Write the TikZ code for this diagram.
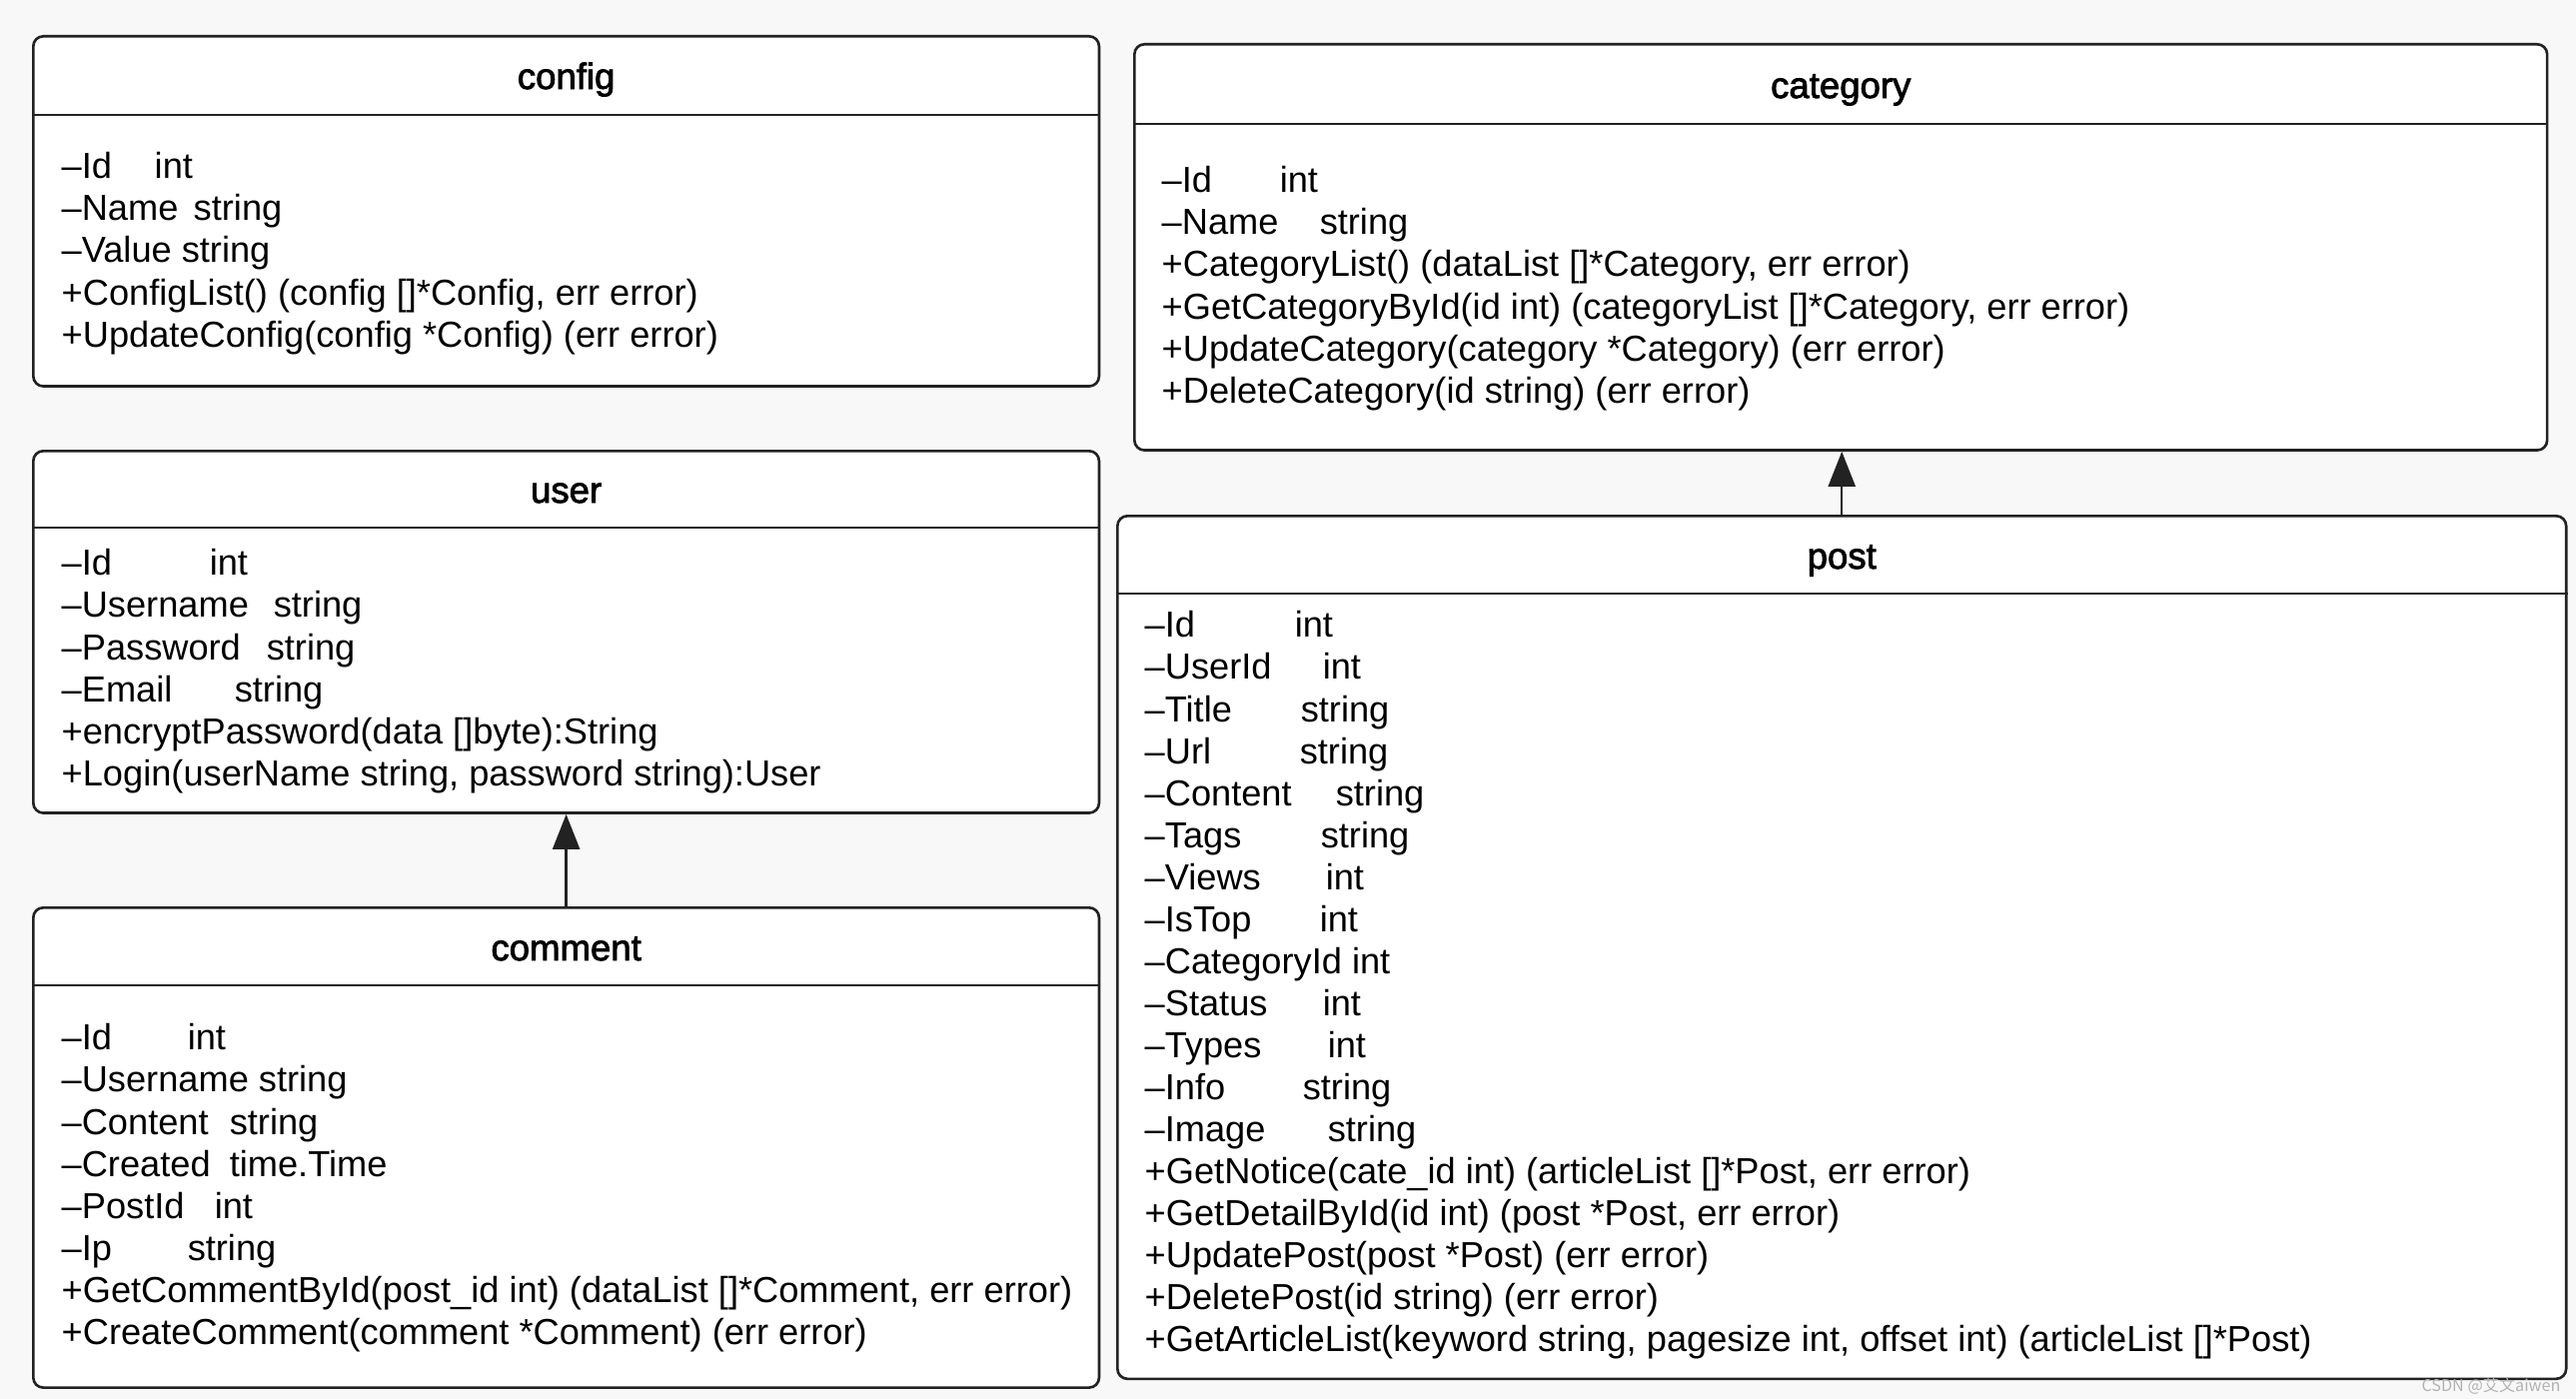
\documentclass[tikz,border=0pt]{standalone}
\usepackage{fontspec}
\setmainfont{Liberation Sans}
\newfontfamily\titlefont[FakeBold=2.2]{Liberation Sans}
\newfontfamily\cjkfont{Noto Sans CJK SC}
\usetikzlibrary{arrows.meta}

\definecolor{bgcol}{RGB}{248,248,248}
\definecolor{linecol}{RGB}{34,34,34}

% field with its type at a fixed column
\newcommand\fld[3]{\makebox[#1][l]{#2}#3}

\tikzset{
  classbox/.style={draw=linecol, line width=0.75pt, rounded corners=0.1cm, fill=white, inner sep=0pt, anchor=north west},
  headline/.style={draw=linecol, line width=0.75pt},
  classtitle/.style={anchor=base, inner sep=0pt, font=\titlefont\fontsize{10.4}{12}\selectfont},
  classbody/.style={anchor=north west, align=left, inner sep=0pt, font=\fontsize{10.3}{11.95}\selectfont},
  inherit/.style={draw=linecol, line width=0.7pt, -{Triangle[length=0.35cm,width=0.27cm]}},
}

\begin{document}
\begin{tikzpicture}[x=0.01cm, y=-0.01cm]
\fill[bgcol] (0,0) rectangle (2578,1400);
\useasboundingbox (0,0) rectangle (2578,1400);

% config
\node[classbox, minimum width=10.66cm, minimum height=3.5cm] (config) at (32,35) {};
\draw[headline] ([yshift=-0.8cm]config.north west) -- ([yshift=-0.8cm]config.north east);
\node[classtitle] (configtitle) at ([yshift=-0.54cm]config.north) {config};
\node[classbody] (configbody) at (61,152) {%
  \fld{0.93cm}{--Id}{int}\\
  \fld{1.32cm}{--Name}{string}\\
  --Value string\\
  +ConfigList() (config []*Config, err error)\\
  +UpdateConfig(config *Config) (err error)};

% category
\node[classbox, minimum width=14.13cm, minimum height=4.06cm] (category) at (1134,43) {};
\draw[headline] ([yshift=-0.81cm]category.north west) -- ([yshift=-0.81cm]category.north east);
\node[classtitle] (categorytitle) at ([yshift=-0.55cm]category.north) {category};
\node[classbody] (categorybody) at (1162,166) {%
  \fld{1.18cm}{--Id}{int}\\
  \fld{1.58cm}{--Name}{string}\\
  +CategoryList() (dataList []*Category, err error)\\
  +GetCategoryById(id int) (categoryList []*Category, err error)\\
  +UpdateCategory(category *Category) (err error)\\
  +DeleteCategory(id string) (err error)};

% user
\node[classbox, minimum width=10.66cm, minimum height=3.62cm] (user) at (32,450) {};
\draw[headline] ([yshift=-0.78cm]user.north west) -- ([yshift=-0.78cm]user.north east);
\node[classtitle] (usertitle) at ([yshift=-0.53cm]user.north) {user};
\node[classbody] (userbody) at (61,549) {%
  \fld{1.48cm}{--Id}{int}\\
  \fld{2.12cm}{--Username}{string}\\
  \fld{2.05cm}{--Password}{string}\\
  \fld{1.73cm}{--Email}{string}\\
  +encryptPassword(data []byte):String\\
  +Login(userName string, password string):User};

% comment
\node[classbox, minimum width=10.66cm, minimum height=4.8cm] (comment) at (32,907) {};
\draw[headline] ([yshift=-0.79cm]comment.north west) -- ([yshift=-0.79cm]comment.north east);
\node[classtitle] (commenttitle) at ([yshift=-0.54cm]comment.north) {comment};
\node[classbody] (commentbody) at (61,1024) {%
  \fld{1.26cm}{--Id}{int}\\
  --Username string\\
  \fld{1.68cm}{--Content}{string}\\
  \fld{1.68cm}{--Created}{time.Time}\\
  \fld{1.53cm}{--PostId}{int}\\
  \fld{1.26cm}{--Ip}{string}\\
  +GetCommentById(post\_id int) (dataList []*Comment, err error)\\
  +CreateComment(comment *Comment) (err error)};

% post
\node[classbox, minimum width=14.49cm, minimum height=8.63cm] (post) at (1117,515) {};
\draw[headline] ([yshift=-0.79cm]post.north west) -- ([yshift=-0.79cm]post.north east);
\node[classtitle] (posttitle) at ([yshift=-0.54cm]post.north) {post};
\node[classbody] (postbody) at (1145,611) {%
  \fld{1.50cm}{--Id}{int}\\
  \fld{1.78cm}{--UserId}{int}\\
  \fld{1.56cm}{--Title}{string}\\
  \fld{1.55cm}{--Url}{string}\\
  \fld{1.91cm}{--Content}{string}\\
  \fld{1.76cm}{--Tags}{string}\\
  \fld{1.81cm}{--Views}{int}\\
  \fld{1.75cm}{--IsTop}{int}\\
  --CategoryId int\\
  \fld{1.78cm}{--Status}{int}\\
  \fld{1.83cm}{--Types}{int}\\
  \fld{1.58cm}{--Info}{string}\\
  \fld{1.83cm}{--Image}{string}\\
  +GetNotice(cate\_id int) (articleList []*Post, err error)\\
  +GetDetailById(id int) (post *Post, err error)\\
  +UpdatePost(post *Post) (err error)\\
  +DeletePost(id string) (err error)\\
  +GetArticleList(keyword string, pagesize int, offset int) (articleList []*Post)};

% inheritance arrows
\draw[inherit] (comment.north) -- (user.south);
\draw[inherit] (post.north) -- (post.north |- category.south);

% watermark
\node[anchor=base, inner sep=0pt, text=gray!60, font=\cjkfont\fontsize{4.6}{5}\selectfont] (wmark) at (2493,1392) {CSDN @艾文aiwen};
\end{tikzpicture}
\end{document}
